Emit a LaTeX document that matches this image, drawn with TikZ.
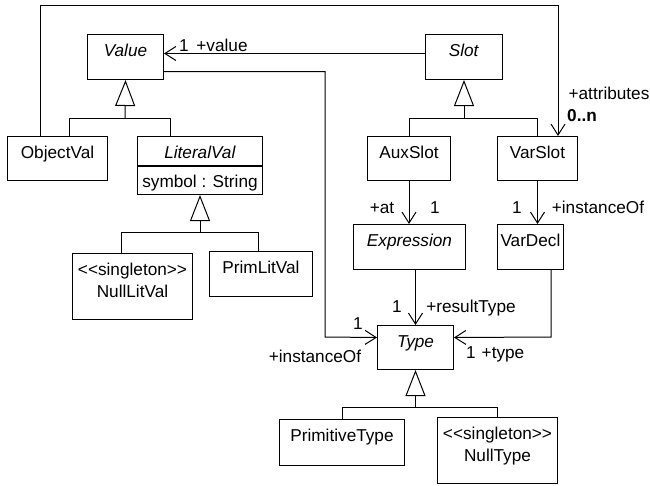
\documentclass[tikz,border=0pt]{standalone}
\usepackage{fontspec}
\setmainfont{Liberation Sans}
\usetikzlibrary{arrows.meta}

\tikzset{
  cls/.style={draw, anchor=north west, minimum width=#1, inner xsep=3pt, inner ysep=6pt,
    text height=16pt, text depth=17pt, align=center},
  tall/.style={text height=38pt, text depth=16pt},
  assoc/.style={-{Straight Barb[length=11pt,width=14pt]}},
  gen/.style={-{Triangle[open,length=26pt,width=20pt]}},
  lbl/.style={inner sep=0pt, text height=12pt, text depth=0pt},
}

\begin{document}
\begin{tikzpicture}[x=1pt, y=-1pt, line width=1pt, font=\fontsize{17.2}{22}\selectfont]
  \useasboundingbox (0,0) rectangle (650,485);

  % Classes
  \node[cls=76pt] (value) at (87,34) {\textit{Value}};
  \node[cls=77pt] (slot) at (425,34) {\textit{Slot}};
  \node[cls=100pt, text depth=16pt] (objval) at (7,136) {ObjectVal};
  \node[cls=125pt, text depth=1pt] (litval) at (137,136) {\textit{LiteralVal}};
  \node[cls=125pt, inner ysep=4pt, text height=17pt, text depth=3pt] (litattr) at (litval.south west) {symbol : String};
  \node[cls=120pt, tall] (nulllit) at (72,253) {<{}<singleton>{}>\\NullLitVal};
  \node[cls=103pt] (primlit) at (209,251) {PrimLitVal};
  \node[cls=83pt, text depth=16pt] (auxslot) at (367,136) {AuxSlot};
  \node[cls=80pt, text depth=16pt] (varslot) at (497,136) {VarSlot};
  \node[cls=112pt] (expr) at (353,224) {\textit{Expression}};
  \node[cls=60pt] (vardecl) at (497,224) {VarDecl};
  \node[cls=76pt, text depth=16pt] (type) at (377,325) {\textit{Type}};
  \node[cls=125pt, text depth=18pt] (primtype) at (279,419) {PrimitiveType};
  \node[cls=120pt, tall] (nulltype) at (437,417) {<{}<singleton>{}>\\NullType};

  % Generalizations
  \coordinate (valbar) at (125,118);
  \coordinate (objstem) at (69,118);
  \coordinate (litstem) at (170,118);
  \draw[gen] (valbar) -- (value.south);
  \draw (objval.north -| objstem) -- (objstem) -- (litstem) -- (litval.north -| litstem);

  \coordinate (slotbar) at (slot.south |- 0,118);
  \draw[gen] (slotbar) -- (slot.south);
  \draw (auxslot.north) -- (auxslot.north |- slotbar) -- (varslot.north |- slotbar) -- (varslot.north);

  \coordinate (litbar) at (litattr.south |- 0,232);
  \coordinate (nullstem) at (121,232);
  \coordinate (primstem) at (258,232);
  \draw[gen] (litbar) -- (litattr.south);
  \draw (nulllit.north -| nullstem) -- (nullstem) -- (primstem) -- (primlit.north -| primstem);

  \coordinate (typebar) at (type.south |- 0,407);
  \draw[gen] (typebar) -- (type.south);
  \draw (primtype.north) -- (primtype.north |- typebar) -- (nulltype.north |- typebar) -- (nulltype.north);

  % Associations
  \draw[assoc] ([yshift=3.5pt]slot.west) -- ([yshift=3.5pt]value.east);
  \node[lbl] (valmult) at (184,45) {1};
  \node[lbl] (valrole) at (222,45) {+value};

  \coordinate (vtcorner) at (325,337);
  \draw[assoc] ([yshift=-14.5pt]value.east) -| (vtcorner) -- ([yshift=10pt]type.west);
  \node[lbl] (instmult) at (358,323) {1};
  \node[lbl] (instrole) at (315,356) {+instanceOf};

  \coordinate (attrleft) at (40,5);
  \coordinate (attrright) at (558,5);
  \draw[assoc] (objval.north -| attrleft) -- (attrleft) -- (attrright) -- (varslot.north -| attrright);
  \node[lbl] (attrrole) at (609,93) {+attributes};
  \node[lbl] (attrmult) at (582,115) {\textbf{0..n}};

  \draw[assoc] (auxslot.south) -- (auxslot.south |- expr.north);
  \node[lbl] (atrole) at (382,207) {+at};
  \node[lbl] (atmult) at (435,207) {1};

  \draw[assoc] (varslot.south) -- (varslot.south |- vardecl.north);
  \node[lbl] (declmult) at (517,207) {1};
  \node[lbl] (declrole) at (598,207) {+instanceOf};

  \draw[assoc] (expr.south -| type.north) -- (type.north);
  \node[lbl] (resmult) at (397,306) {1};
  \node[lbl] (resrole) at (471,306) {+resultType};

  \coordinate (vdcorner) at (551,337);
  \draw[assoc] (vardecl.south -| vdcorner) -- (vdcorner) -- ([yshift=10pt]type.east);
  \node[lbl] (typemult) at (471,352) {1};
  \node[lbl] (typerole) at (503,352) {+type};
\end{tikzpicture}
\end{document}
